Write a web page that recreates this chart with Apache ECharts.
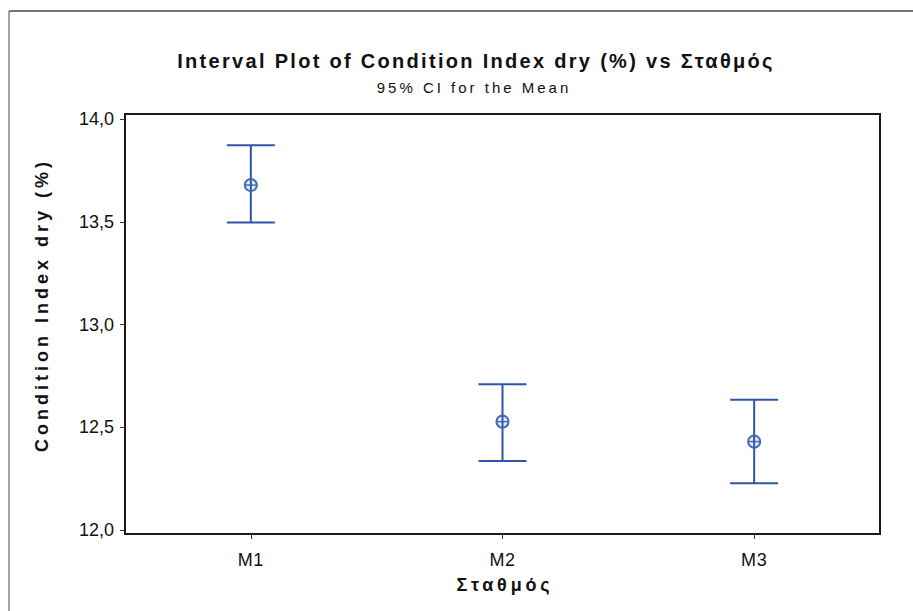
<!DOCTYPE html>
<html>
<head>
<meta charset="utf-8">
<script src="https://cdn.jsdelivr.net/npm/echarts@6/dist/echarts.min.js"></script>
<style>
html,body{margin:0;padding:0;background:#fff;}
#chart{width:913px;height:611px;}
/* Minitab-style letter spacing on the titles */
#chart text[style*="spT"]{letter-spacing:2.3px;}
#chart text[style*="spS"]{letter-spacing:3px;}
#chart text[style*="spY"]{letter-spacing:4px;}
#chart text[style*="spX"]{letter-spacing:3.8px;}
#chart text[style*="spL"]{letter-spacing:0.6px;}
</style>
</head>
<body>
<div id="chart"></div>
<script>
// ---- data ----
const categories = ['M1', 'M2', 'M3'];
const means = [13.679, 12.527, 12.430];
const lowerCI = [13.497, 12.336, 12.227];
const upperCI = [13.873, 12.709, 12.634];
const yTickValues = [12.0, 12.5, 13.0, 13.5, 14.0];

const titleText = 'Interval Plot of Condition Index dry (%) vs Σταθμός';
const subtitleText = '95% CI for the Mean';
const xAxisTitle = 'Σταθμός';
const yAxisTitle = 'Condition Index dry (%)';

const seriesData = categories.map((c, i) => [i, means[i], lowerCI[i], upperCI[i]]);

const barColor = '#2c56a6';
const fam = tag => '"Liberation Sans", ' + tag + ', Arial, sans-serif';

const chart = echarts.init(document.getElementById('chart'), null, {renderer: 'svg'});

function renderItem(params, api) {
  const x = api.value(0);
  const pMean = api.coord([x, api.value(1)]);
  const pLow = api.coord([x, api.value(2)]);
  const pHigh = api.coord([x, api.value(3)]);
  const cap = 24;
  const r = 6;
  const lineStyle = {stroke: barColor, lineWidth: 2, fill: null};
  return {
    type: 'group',
    children: [
      {type: 'line', shape: {x1: pLow[0], y1: pLow[1], x2: pHigh[0], y2: pHigh[1]}, style: lineStyle},
      {type: 'line', shape: {x1: pHigh[0] - cap, y1: pHigh[1], x2: pHigh[0] + cap, y2: pHigh[1]}, style: lineStyle},
      {type: 'line', shape: {x1: pLow[0] - cap, y1: pLow[1], x2: pLow[0] + cap, y2: pLow[1]}, style: lineStyle},
      {type: 'circle', shape: {cx: pMean[0], cy: pMean[1], r: r}, style: {stroke: '#4470b3', lineWidth: 2, fill: '#e6edf7'}},
      {type: 'line', shape: {x1: pMean[0] - r, y1: pMean[1], x2: pMean[0] + r, y2: pMean[1]}, style: {stroke: '#4470b3', lineWidth: 1.5}},
      {type: 'line', shape: {x1: pMean[0], y1: pMean[1] - r, x2: pMean[0], y2: pMean[1] + r}, style: {stroke: barColor, lineWidth: 2}}
    ]
  };
}

const option = {
  backgroundColor: '#ffffff',
  animation: false,
  title: [
    {text: titleText, left: 471, top: 46, textAlign: 'center',
     textStyle: {fontFamily: fam('spT'), fontSize: 20, fontWeight: 'bold', color: '#111'}},
    {text: subtitleText, left: 469, top: 75, textAlign: 'center',
     textStyle: {fontFamily: fam('spS'), fontSize: 15, fontWeight: 'normal', color: '#111'}}
  ],
  grid: {left: 125, right: 33, top: 114, bottom: 77, show: true, borderColor: '#1a1a1a', borderWidth: 2, backgroundColor: 'transparent'},
  xAxis: {
    type: 'category',
    data: categories,
    boundaryGap: true,
    axisLine: {show: true, lineStyle: {color: '#1a1a1a', width: 2}},
    axisTick: {show: true, alignWithLabel: true, length: 5, inside: false, lineStyle: {color: '#333', width: 1}},
    axisLabel: {fontFamily: fam('spL'), fontSize: 18, color: '#111', margin: 17},
    splitLine: {show: false}
  },
  yAxis: {
    type: 'value',
    min: 11.98,
    max: 14.025,
    axisLine: {show: true, lineStyle: {color: '#1a1a1a', width: 2}},
    axisTick: {show: true, length: 5, customValues: yTickValues, lineStyle: {color: '#333', width: 1}},
    axisLabel: {fontFamily: '"Liberation Sans", Arial, sans-serif', fontSize: 18, color: '#111', margin: 11, customValues: yTickValues,
      formatter: v => v.toFixed(1).replace('.', ',')},
    splitLine: {show: false}
  },
  graphic: [
    {type: 'line', shape: {x1: 9, y1: 11, x2: 913, y2: 11}, style: {stroke: '#444', lineWidth: 1.5}, silent: true},
    {type: 'line', shape: {x1: 9, y1: 11, x2: 9, y2: 611}, style: {stroke: '#666', lineWidth: 1.2}, silent: true},
    {type: 'text', x: 42, y: 305, rotation: Math.PI / 2,
     style: {text: yAxisTitle, fontFamily: fam('spY'), fontSize: 18, fontWeight: 'bold', fill: '#111', align: 'center', verticalAlign: 'middle'}},
    {type: 'text', x: 505, y: 585,
     style: {text: xAxisTitle, fontFamily: fam('spX'), fontSize: 18, fontWeight: 'bold', fill: '#111', align: 'center', verticalAlign: 'middle'}}
  ],
  series: [{
    type: 'custom',
    renderItem: renderItem,
    data: seriesData,
    encode: {x: 0, y: [1, 2, 3]},
    z: 10
  }]
};
chart.setOption(option);
</script>
</body>
</html>
